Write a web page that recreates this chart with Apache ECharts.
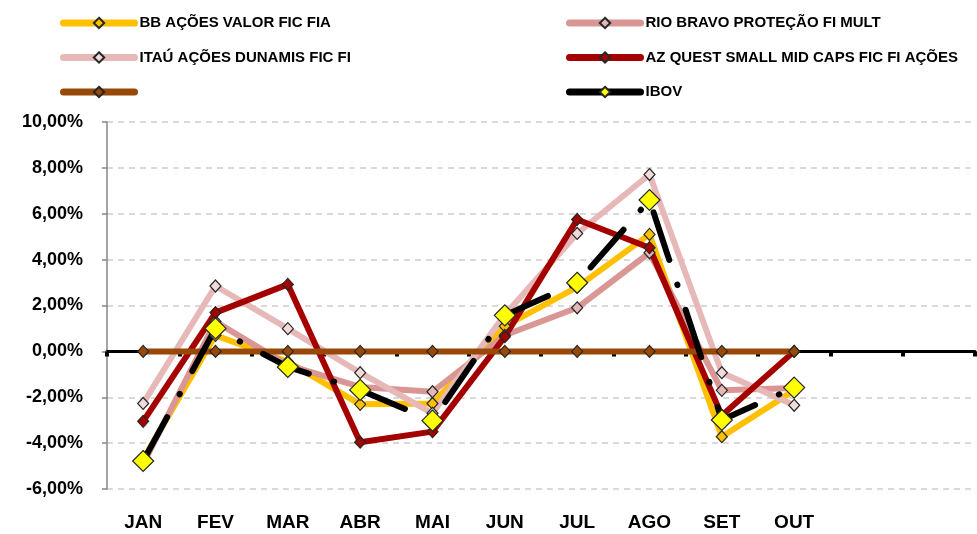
<!DOCTYPE html>
<html>
<head>
<meta charset="utf-8">
<script src="https://cdn.jsdelivr.net/npm/echarts@6/dist/echarts.min.js"></script>
<style>
  html, body { margin: 0; padding: 0; background: #fff; }
  #chart { width: 977px; height: 534px; }
</style>
</head>
<body>
<div id="chart"></div>
<script>
// meses do gráfico (NOV e DEZ ficam sem rótulo, como no original)
var months = ['JAN', 'FEV', 'MAR', 'ABR', 'MAI', 'JUN', 'JUL', 'AGO', 'SET', 'OUT']
var axisSlots = ['JAN', 'FEV', 'MAR', 'ABR', 'MAI', 'JUN', 'JUL', 'AGO', 'SET', 'OUT', 'NOV', 'DEZ']
var yTicks = [-6, -4, -2, 0, 2, 4, 6, 8, 10]

// rentabilidade mensal (%)
var bbAcoes = [-4.7, 0.7, -0.45, -2.31, -2.27, 1.1, 2.8, 5.1, -3.72, -1.7]
var rioBravo = [-4.9, 1.3, -0.6, -1.55, -1.76, 0.7, 1.9, 4.3, -1.7, -1.6]
var itauDunamis = [-2.27, 2.85, 0.99, -0.93, -2.7, 1.6, 5.14, 7.71, -0.93, -2.35]
var azQuest = [-3.05, 1.69, 2.92, -3.96, -3.5, 0.64, 5.75, 4.52, -2.8, 0.0]
var semNome = [0, 0, 0, 0, 0, 0, 0, 0, 0, 0]
var ibov = [-4.78, 1.0, -0.68, -1.68, -3.02, 1.57, 2.99, 6.6, -2.99, -1.58]

var font = 'Liberation Sans, Arial, sans-serif'

function fmtPct (v) {
  return v.toFixed(2).replace('.', ',') + '%'
}

function lineSerie (name, data, color, fill) {
  return {
    name: name,
    type: 'line',
    data: data,
    symbol: 'diamond',
    symbolSize: [11, 12],
    lineStyle: { color: color, width: 6, cap: 'round', join: 'round' },
    itemStyle: { color: fill, borderColor: '#262626', borderWidth: 1.2 },
    emphasis: { disabled: true }
  }
}

var series = [
  lineSerie('BB AÇÕES VALOR FIC FIA', bbAcoes, '#FFC000', '#FFC000'),
  lineSerie('RIO BRAVO PROTEÇÃO FI MULT', rioBravo, '#D99694', '#E6B9B8'),
  lineSerie('ITAÚ AÇÕES DUNAMIS FIC FI', itauDunamis, '#E6B9B8', '#F2DCDB'),
  lineSerie('AZ QUEST SMALL MID CAPS FIC FI AÇÕES', azQuest, '#A50000', '#A50000'),
  lineSerie(' ', semNome, '#984807', '#984807'),
  lineSerie('IBOV', ibov, '#000000', '#FFFF00')
]
// IBOV: traço-ponto preto, marcador amarelo maior
series[5].lineStyle.type = [50, 26, 0.5, 26]
series[5].symbolSize = [21, 21]

var legendText = { fontFamily: font, fontWeight: 'bold', fontSize: 15, color: '#000', lineHeight: 16 }

function legendCol (names, left) {
  return {
    data: names,
    orient: 'vertical', left: left, top: 15, padding: 0,
    itemWidth: 71, itemHeight: 13, itemGap: 18.5,
    lineStyle: { width: 7, type: 'solid', cap: 'round' },
    selectedMode: false, textStyle: legendText
  }
}

var option = {
  animation: false,
  backgroundColor: '#fff',
  legend: [
    legendCol(['BB AÇÕES VALOR FIC FIA', 'ITAÚ AÇÕES DUNAMIS FIC FI', ' '], 60),
    legendCol(['RIO BRAVO PROTEÇÃO FI MULT', 'AZ QUEST SMALL MID CAPS FIC FI AÇÕES', 'IBOV'], 566)
  ],
  grid: { left: 107, right: 2, top: 122, bottom: 45 },
  xAxis: [
    {
      type: 'category',
      data: axisSlots,
      position: 'bottom',
      axisLine: { show: false, onZero: false },
      axisTick: { show: false },
      axisLabel: {
        interval: 0, margin: 24,
        fontFamily: font, fontWeight: 'bold', fontSize: 19, color: '#000',
        formatter: function (v) { return months.indexOf(v) >= 0 ? v : '' }
      },
      splitLine: { show: false }
    },
    {
      type: 'category',
      data: axisSlots,
      position: 'bottom',
      axisLine: { show: true, onZero: true, lineStyle: { color: '#000', width: 3 } },
      axisTick: { show: true, length: 5, lineStyle: { color: '#000', width: 4 } },
      axisLabel: { show: false },
      splitLine: { show: false }
    }
  ],
  yAxis: {
    type: 'value',
    min: yTicks[0],
    max: yTicks[yTicks.length - 1],
    interval: 2,
    axisLine: { show: true, lineStyle: { color: '#868686', width: 1.5 } },
    axisTick: { show: true, length: 5, lineStyle: { color: '#868686', width: 1.5 } },
    axisLabel: {
      margin: 24,
      fontFamily: font, fontWeight: 'bold', fontSize: 18, color: '#000',
      formatter: fmtPct
    },
    splitLine: { lineStyle: { color: '#D9D9D9', width: 2, type: [6, 5] } }
  },
  series: series
}

var chart = echarts.init(document.getElementById('chart'))
chart.setOption(option)
</script>
</body>
</html>
